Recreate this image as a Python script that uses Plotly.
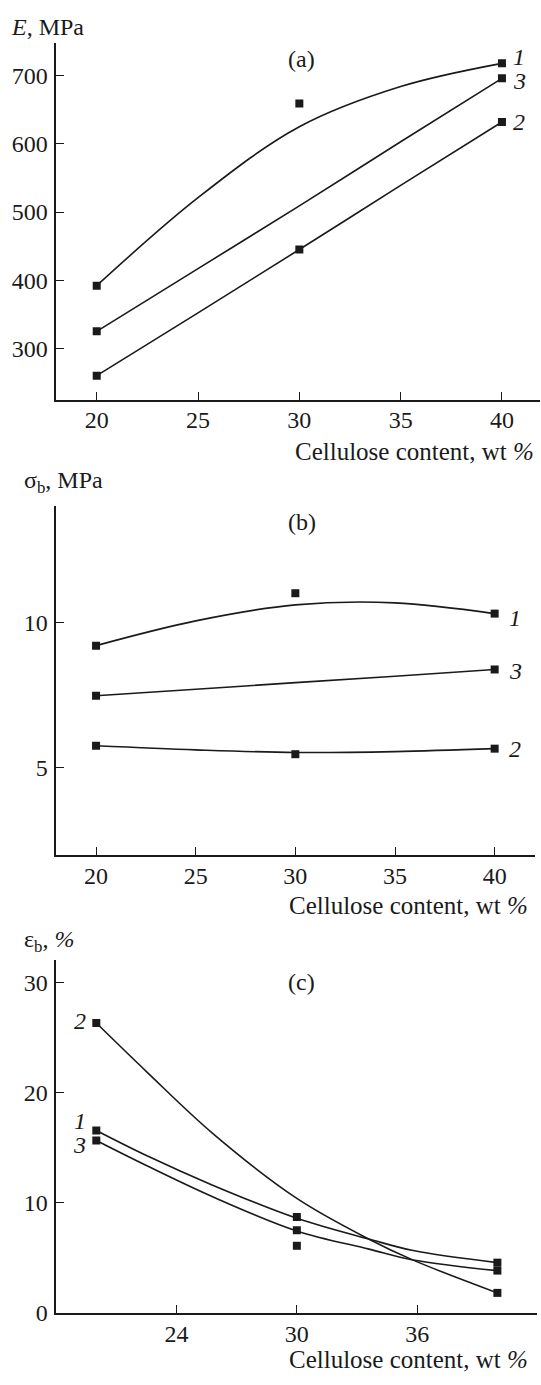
import plotly.graph_objects as go

# ---------------- data ----------------
x_pts = [20, 30, 40]
x_fit = [20, 25, 30, 35, 40]

# (a) Young's modulus E, MPa
a_E1 = [392, 659, 718]
a_E2 = [260, 445, 632]
a_E3_x = [20, 40]
a_E3 = [325, 696]
a_fit1 = [392, 521, 625, 684, 718]
a_fit2 = [260, 352, 445, 539, 632]
a_fit3 = [325, 417, 509, 603, 696]

# (b) tensile strength sigma_b, MPa
b_S1 = [9.2, 11.0, 10.3]
b_S2 = [5.76, 5.47, 5.66]
b_S3_x = [20, 40]
b_S3 = [7.48, 8.38]
b_fit1 = [9.2, 10.05, 10.6, 10.67, 10.3]
b_fit2 = [5.76, 5.62, 5.53, 5.56, 5.66]
b_fit3 = [7.48, 7.7, 7.93, 8.15, 8.38]

# (c) elongation at break eps_b, %
c_e1 = [16.55, 8.71, 4.57]
c_e2 = [26.3, 6.1, 1.83]
c_e3 = [15.65, 7.51, 3.85]
c_fit_x = [20, 22.5, 25.8, 30, 33.6, 35.8, 40]
c_fit1 = [16.55, 14.28, 11.6, 8.6, 6.71, 5.67, 4.57]
c_fit2 = [26.3, 21.9, 16.3, 10.4, 6.7, 4.8, 1.83]
c_fit3 = [15.65, 13.38, 10.55, 7.45, 5.8, 4.82, 3.85]

a_ticks = [300, 400, 500, 600, 700]
b_ticks = [5, 10]
c_ticks = [0, 10, 20, 30]
ab_xticks = [20, 25, 30, 35, 40]
c_xticks = [24, 30, 36]

FONT = "Liberation Serif"
INK = "#1a1a1a"
W, H = 541, 1385

fig = go.Figure()

def curve(x, y, xa, ya):
    fig.add_trace(go.Scatter(x=x, y=y, mode="lines", line=dict(color=INK, width=1.6, shape="spline", smoothing=1.0),
                             xaxis=xa, yaxis=ya, showlegend=False, hoverinfo="skip"))

def pts(x, y, xa, ya):
    fig.add_trace(go.Scatter(x=x, y=y, mode="markers", marker=dict(symbol="square", size=8, color=INK),
                             xaxis=xa, yaxis=ya, showlegend=False))

# panel a
curve(x_fit, a_fit1, "x", "y"); curve(x_fit, a_fit2, "x", "y"); curve(x_fit, a_fit3, "x", "y")
pts(x_pts, a_E1, "x", "y"); pts(x_pts, a_E2, "x", "y"); pts(a_E3_x, a_E3, "x", "y")
# panel b
curve(x_fit, b_fit1, "x2", "y2"); curve(x_fit, b_fit2, "x2", "y2"); curve(x_fit, b_fit3, "x2", "y2")
pts(x_pts, b_S1, "x2", "y2"); pts(x_pts, b_S2, "x2", "y2"); pts(b_S3_x, b_S3, "x2", "y2")
# panel c
curve(c_fit_x, c_fit1, "x3", "y3"); curve(c_fit_x, c_fit2, "x3", "y3"); curve(c_fit_x, c_fit3, "x3", "y3")
pts(x_pts, c_e1, "x3", "y3"); pts(x_pts, c_e2, "x3", "y3"); pts(x_pts, c_e3, "x3", "y3")

tickfont = dict(family=FONT, size=24, color=INK)

def xaxis(domain, rng, ticks, anchor):
    return dict(domain=domain, range=rng, tickvals=ticks, ticks="inside", ticklen=8, tickwidth=1.2,
                tickcolor=INK, showline=True, linecolor=INK, linewidth=1.5, showgrid=False, zeroline=False,
                tickfont=tickfont, anchor=anchor, fixedrange=True, ticklabelstandoff=-2)

def yaxis(domain, rng, ticks, anchor):
    return dict(domain=domain, range=rng, tickvals=ticks, ticks="inside", ticklen=8, tickwidth=1.2,
                tickcolor=INK, showline=True, linecolor=INK, linewidth=1.5, showgrid=False, zeroline=False,
                tickfont=tickfont, anchor=anchor, fixedrange=True, ticklabelstandoff=2)

x0 = 56.2 / W
fig.update_layout(
    width=W, height=H, margin=dict(l=0, r=0, t=0, b=0),
    paper_bgcolor="white", plot_bgcolor="white",
    xaxis=xaxis([x0, 0.999], [18.0, 41.9], ab_xticks, "y"),
    yaxis=yaxis([1 - 403.3 / H, 1 - 43.3 / H], [225, 748], a_ticks, "x"),
    xaxis2=xaxis([x0, 534.5 / W], [18.0, 42.0], ab_xticks, "y2"),
    yaxis2=yaxis([1 - 863.3 / H, 1 - 510.7 / H], [2.0, 14.0], b_ticks, "x2"),
    xaxis3=xaxis([x0, 536.5 / W], [18.0, 41.95], c_xticks, "y3"),
    yaxis3=yaxis([1 - 1325.5 / H, 1 - 969.3 / H], [0, 32.0], c_ticks, "x3"),
    showlegend=False,
)

def ann_paper(text, px, py, xanchor="center", size=24):
    fig.add_annotation(text=text, x=px / W, y=1 - py / H, xref="paper", yref="paper", showarrow=False,
                       xanchor=xanchor, yanchor="middle", font=dict(family=FONT, size=size, color=INK))

# y-axis titles
ann_paper("<i>E</i>, MPa", 9, 27, "left")
ann_paper("σ<sub>b</sub>, MPa", 22, 487, "left")
ann_paper("ε<sub>b</sub>, <i>%</i>", 22, 950, "left")
# x-axis titles
xt = "Cellulose content, wt <i>%</i>"
ann_paper(xt, 536, 456, "right", 25)
ann_paper(xt, 530, 914, "right", 25)
ann_paper(xt, 530, 1372, "right", 25)
# panel labels
ann_paper("(a)", 301, 60)
ann_paper("(b)", 302, 527)
ann_paper("(c)", 301, 991)

def num(text, x, y, xa, ya, xanchor, xshift, yshift=0):
    fig.add_annotation(text="<i>" + text + "</i>", x=x, y=y, xref=xa, yref=ya, showarrow=False,
                       xanchor=xanchor, yanchor="middle", xshift=xshift, yshift=yshift,
                       font=dict(family=FONT, size=24, color=INK))

# curve numbers panel a
num("1", x_pts[2], a_E1[2], "x", "y", "left", 9, 6)
num("3", a_E3_x[1], a_E3[1], "x", "y", "left", 9, -3)
num("2", x_pts[2], a_E2[2], "x", "y", "left", 9, 0)
# panel b
num("1", x_pts[2], b_S1[2], "x2", "y2", "left", 12, -4)
num("3", b_S3_x[1], b_S3[1], "x2", "y2", "left", 12, -2)
num("2", x_pts[2], b_S2[2], "x2", "y2", "left", 12, 0)
# panel c
num("2", x_pts[0], c_e2[0], "x3", "y3", "right", -8, 2)
num("1", x_pts[0], c_e1[0], "x3", "y3", "right", -8, 10)
num("3", x_pts[0], c_e3[0], "x3", "y3", "right", -8, -5)

fig.write_html("out.html", config={"displayModeBar": False},
               post_script="document.body.style.margin='0';document.body.style.overflow='hidden';")
